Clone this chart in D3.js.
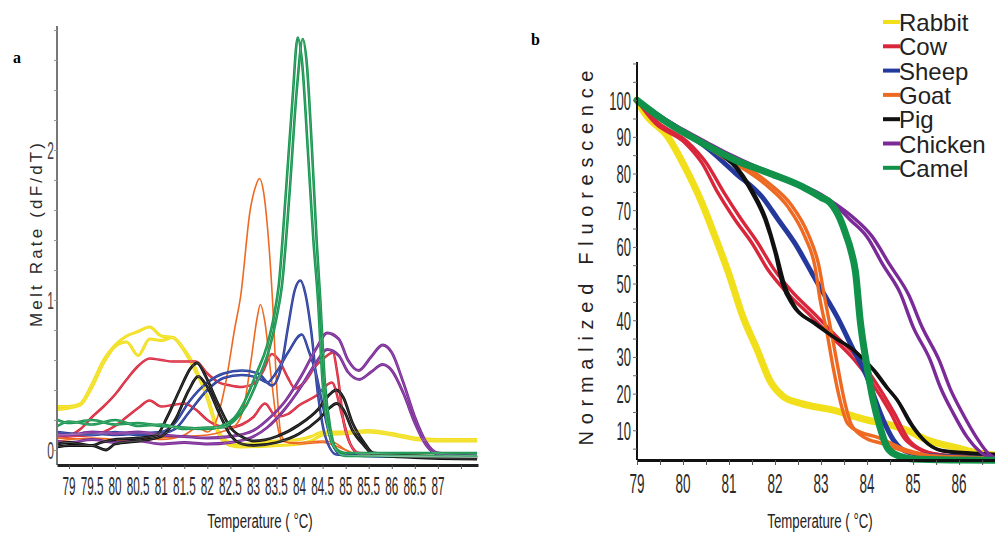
<!DOCTYPE html>
<html><head><meta charset="utf-8">
<script src="https://cdn.jsdelivr.net/npm/d3@7"></script>
<style>
html,body{margin:0;padding:0;background:#fff;}
svg{display:block;}
</style></head><body>
<svg id="chart" width="995" height="536"></svg>
<script>
// ---------- categories & styling keys ----------
const species = ["Rabbit","Cow","Sheep","Goat","Pig","Chicken","Camel"];
const speciesColors = ["#f2df1b","#d9263b","#24399b","#ee6a22","#111111","#7b2b97","#10924a"];

// ---------- panel a: tick labels ----------
const meltTickLabelsX = [79,79.5,80,80.5,81,81.5,82,82.5,83,83.5,84,84.5,85,85.5,86,86.5,87];
const meltTickMarksX = [79,79.5,80,80.5,81,81.5,82,82.5,83,83.5,84,84.5,85,85.5,86,86.5,87,87.5];
const meltTickLabelsY = [0,1,2];
const meltTickMarksY = [0,0.2,0.4,0.6,0.8,1,1.2,1.4,1.6,1.8,2,2.2,2.4,2.6,2.8];

// ---------- panel a: melt rate curves [temperature, dF/dT] ----------
const rabbitMelt1 = [[78.75,0.29],[79.0,0.29],[79.25,0.31],[79.5,0.44],[79.75,0.6],[80.0,0.7],[80.25,0.76],[80.5,0.79],[80.75,0.82],[81.0,0.76],[81.25,0.75],[81.5,0.66],[81.75,0.52],[82.0,0.36],[82.25,0.12],[82.5,0.05],[82.75,0.04],[83.5,0.06],[84.0,0.07],[84.25,0.09],[84.5,0.12],[85.0,0.12],[85.5,0.13],[86.0,0.11],[86.5,0.08],[87.0,0.07],[87.85,0.07]];
const rabbitMelt2 = [[78.75,0.27],[79.0,0.28],[79.25,0.3],[79.5,0.42],[79.75,0.58],[80.0,0.69],[80.25,0.72],[80.5,0.63],[80.75,0.74],[81.0,0.73],[81.25,0.75],[81.5,0.67],[81.75,0.54],[82.0,0.34],[82.25,0.1],[82.5,0.03],[82.75,0.02],[83.5,0.03],[84.0,0.04],[84.25,0.06],[84.5,0.1],[85.0,0.11],[85.5,0.12],[86.0,0.1],[86.5,0.07],[87.0,0.06],[87.85,0.06]];
const cowMelt1 = [[78.75,0.1],[79.0,0.1],[79.25,0.14],[79.5,0.22],[79.75,0.29],[80.0,0.37],[80.25,0.47],[80.5,0.56],[80.75,0.61],[81.0,0.6],[81.25,0.59],[81.5,0.59],[81.75,0.59],[82.0,0.51],[82.25,0.45],[82.5,0.43],[82.75,0.42],[83.0,0.44],[83.2,0.52],[83.4,0.64],[83.55,0.6],[83.75,0.48],[83.9,0.41],[84.1,0.45],[84.35,0.56],[84.6,0.63],[84.72,0.65],[84.83,0.49],[84.96,0.18],[85.1,0.04],[85.3,-0.02],[86.0,-0.03],[87.0,-0.04],[87.85,-0.04]];
const cowMelt2 = [[78.75,0.08],[79.0,0.09],[79.5,0.1],[80.0,0.16],[80.25,0.22],[80.5,0.28],[80.75,0.33],[81.0,0.29],[81.25,0.3],[81.5,0.31],[81.75,0.27],[82.0,0.2],[82.25,0.16],[82.5,0.15],[82.75,0.17],[83.0,0.22],[83.25,0.31],[83.5,0.22],[83.75,0.24],[84.0,0.3],[84.35,0.36],[84.7,0.45],[84.93,0.22],[85.1,0.04],[85.3,-0.03],[86.0,-0.04],[87.85,-0.05]];
const sheepMelt1 = [[78.75,0.1],[79.5,0.11],[80.0,0.1],[80.5,0.11],[81.0,0.12],[81.3,0.18],[81.6,0.32],[82.0,0.45],[82.35,0.51],[82.75,0.53],[83.1,0.51],[83.4,0.43],[83.6,0.55],[83.75,0.82],[83.9,1.07],[84.02,1.13],[84.12,1.05],[84.25,0.8],[84.4,0.37],[84.55,0.1],[84.8,-0.03],[85.5,-0.04],[87.85,-0.05]];
const sheepMelt2 = [[78.75,0.12],[79.5,0.1],[80.0,0.12],[80.5,0.1],[81.0,0.11],[81.3,0.14],[81.6,0.25],[82.0,0.4],[82.35,0.48],[82.75,0.5],[83.1,0.48],[83.3,0.45],[83.5,0.52],[83.75,0.65],[84.05,0.77],[84.2,0.66],[84.35,0.52],[84.5,0.3],[84.7,0.05],[84.9,-0.03],[85.5,-0.04],[87.85,-0.05]];
const goatMelt1 = [[78.75,0.08],[79.5,0.07],[80.0,0.06],[80.5,0.08],[81.0,0.07],[81.5,0.1],[81.8,0.15],[82.0,0.12],[82.2,0.2],[82.4,0.45],[82.6,0.82],[82.72,1.02],[82.93,1.6],[83.05,1.76],[83.13,1.81],[83.22,1.72],[83.3,1.5],[83.41,1.02],[83.5,0.45],[83.6,0.1],[83.75,0.05],[84.0,0.05],[84.5,0.06],[84.75,0.05],[85.0,0.0],[85.25,-0.03],[87.85,-0.05]];
const goatMelt2 = [[78.75,0.06],[79.5,0.08],[80.0,0.07],[80.5,0.06],[81.0,0.08],[81.5,0.09],[82.0,0.1],[82.3,0.12],[82.6,0.16],[82.8,0.3],[82.95,0.6],[83.08,0.88],[83.15,0.97],[83.25,0.85],[83.38,0.5],[83.5,0.2],[83.62,0.06],[84.0,0.04],[84.5,0.05],[85.0,0.0],[85.25,-0.03],[87.85,-0.05]];
const pigMelt1 = [[78.75,0.04],[79.0,0.05],[79.25,0.04],[79.5,0.03],[79.7,0.05],[80.0,0.07],[80.5,0.08],[80.9,0.1],[81.13,0.22],[81.4,0.4],[81.65,0.55],[81.78,0.58],[81.95,0.5],[82.2,0.33],[82.5,0.15],[82.8,0.08],[83.0,0.06],[83.5,0.09],[84.0,0.17],[84.4,0.27],[84.65,0.37],[84.8,0.4],[84.95,0.35],[85.15,0.18],[85.4,0.05],[85.6,-0.02],[86.5,-0.04],[87.85,-0.05]];
const pigMelt2 = [[78.75,0.02],[79.0,0.03],[79.5,0.03],[79.8,0.0],[80.0,0.04],[80.5,0.06],[81.0,0.09],[81.3,0.2],[81.6,0.4],[81.8,0.49],[82.0,0.42],[82.25,0.25],[82.5,0.1],[82.75,0.04],[83.0,0.03],[83.5,0.05],[84.0,0.11],[84.4,0.2],[84.65,0.28],[84.8,0.31],[84.95,0.27],[85.15,0.13],[85.4,0.03],[85.6,-0.03],[86.5,-0.05],[87.85,-0.06]];
const chickenMelt1 = [[78.75,0.1],[79.0,0.1],[79.5,0.12],[80.0,0.11],[80.5,0.12],[81.0,0.1],[81.5,0.09],[82.0,0.08],[82.5,0.09],[83.0,0.13],[83.3,0.2],[83.7,0.33],[84.05,0.5],[84.35,0.67],[84.6,0.78],[84.85,0.74],[85.05,0.6],[85.28,0.53],[85.55,0.62],[85.8,0.7],[86.0,0.65],[86.25,0.45],[86.5,0.22],[86.75,0.05],[87.0,-0.02],[87.85,-0.04]];
const chickenMelt2 = [[78.75,0.06],[79.0,0.05],[79.5,0.07],[80.0,0.05],[80.5,0.06],[81.0,0.04],[81.5,0.05],[82.0,0.04],[82.5,0.05],[83.0,0.09],[83.3,0.15],[83.7,0.28],[84.05,0.43],[84.35,0.58],[84.6,0.67],[84.85,0.63],[85.05,0.52],[85.3,0.47],[85.55,0.52],[85.8,0.57],[86.0,0.53],[86.25,0.38],[86.5,0.18],[86.75,0.03],[87.0,-0.03],[87.85,-0.05]];
const camelMelt1 = [[78.75,0.2],[79.0,0.18],[79.5,0.2],[80.0,0.17],[80.5,0.18],[81.0,0.16],[81.5,0.15],[82.0,0.14],[82.3,0.16],[82.6,0.22],[82.85,0.35],[83.05,0.5],[83.3,0.7],[83.45,0.9],[83.55,1.1],[83.7,1.7],[83.85,2.35],[83.96,2.75],[84.05,2.6],[84.18,2.0],[84.3,1.4],[84.4,1.0],[84.5,0.45],[84.62,0.15],[84.75,0.02],[85.0,-0.02],[86.0,-0.02],[87.85,-0.02]];
const camelMelt2 = [[78.75,0.16],[79.0,0.19],[79.5,0.17],[80.0,0.2],[80.5,0.16],[81.0,0.17],[81.5,0.14],[82.0,0.15],[82.3,0.15],[82.6,0.2],[82.85,0.3],[83.1,0.47],[83.35,0.68],[83.5,0.88],[83.62,1.1],[83.78,1.7],[83.94,2.4],[84.07,2.74],[84.15,2.6],[84.27,2.0],[84.37,1.4],[84.45,1.0],[84.55,0.45],[84.67,0.14],[84.8,0.0],[85.0,-0.04],[86.0,-0.04],[87.85,-0.04]];

// ---------- panel b: tick labels ----------
const normTickLabelsX = [79,80,81,82,83,84,85,86];
const normTickMarksX = [79,79.5,80,80.5,81,81.5,82,82.5,83,83.5,84,84.5,85,85.5,86,86.5];
const normTickLabelsY = [10,20,30,40,50,60,70,80,90,100];
const normTickMarksY = [5,10,15,20,25,30,35,40,45,50,55,60,65,70,75,80,85,90,95,100,105,110];

// ---------- panel b: normalized fluorescence curves [temperature, %] ----------
const rabbitNorm = [[79,100],[79.17,96.4],[79.67,90],[80.04,81.8],[80.41,72],[80.7,62.7],[81.0,52.5],[81.3,41],[81.61,32],[81.89,23.5],[82.17,19.3],[82.54,17.4],[83.26,15.5],[84.0,12.8],[84.5,11.5],[84.87,10],[85.3,7.4],[85.96,5.2],[86.3,4.1],[86.78,3.2]];
const cowNorm1 = [[79,100],[79.39,93.8],[80.04,88.4],[80.41,82.9],[80.76,74.7],[81.13,67.4],[81.5,61],[81.85,53.7],[82.2,48.3],[82.8,40.9],[83.3,34.6],[83.7,29.5],[84.1,23],[84.5,15],[84.8,8],[85.1,5],[85.5,3.5],[86,3],[86.78,2.5]];
const cowNorm2 = [[79,100],[79.45,94],[80.1,88.6],[80.5,83],[80.88,75],[81.25,67.8],[81.62,61.2],[81.97,54],[82.32,48.5],[82.9,41.2],[83.4,34.8],[83.8,29.6],[84.2,22.8],[84.6,14.5],[84.9,7.5],[85.2,4.6],[85.6,3.3],[86,2.9],[86.78,2.4]];
const sheepNorm = [[79,100],[79.5,95.5],[80,91.5],[80.5,87.2],[81.13,80.2],[81.72,73.6],[82.07,67.4],[82.43,61],[82.8,52.9],[83.0,48.5],[83.35,40.9],[83.7,32],[84.0,24.5],[84.13,20],[84.35,12.8],[84.57,7.4],[84.9,4],[85.5,3],[86.78,2.5]];
const goatNorm1 = [[79,100],[79.5,95.5],[80,91.5],[80.5,87.5],[81.0,83.5],[81.35,81],[81.85,76.4],[82.28,70.9],[82.65,62.7],[82.87,54.5],[82.98,45.5],[83.13,36.5],[83.26,27.3],[83.41,18.3],[83.57,12],[83.85,9.5],[84.2,8.2],[84.87,4.6],[85.5,3],[86.78,2.5]];
const goatNorm2 = [[79,100],[79.5,95.6],[80,91.7],[80.5,87.8],[81.0,84],[81.4,81.5],[81.9,77],[82.35,71.5],[82.72,63.5],[82.95,55],[83.08,46],[83.22,37],[83.36,27.5],[83.5,18.5],[83.66,11.5],[83.95,8],[84.3,6.5],[84.9,4],[85.5,2.8],[86.78,2.3]];
const pigNorm1 = [[79,100],[79.5,95],[80.26,89.2],[80.76,85.6],[81.13,81.8],[81.5,74.7],[81.78,67.4],[82.0,58.4],[82.15,50.2],[82.39,44],[82.83,39.3],[83.26,35.5],[83.7,31.9],[84.13,26.5],[84.4,22],[84.65,18.3],[84.93,12],[85.22,7.4],[85.59,4.6],[86.3,3.8],[86.78,3.5]];
const pigNorm2 = [[79,100],[79.5,95.2],[80.26,89.6],[80.76,86],[81.13,82.3],[81.5,75.5],[81.8,67.8],[82.03,58.2],[82.2,50],[82.45,43.4],[82.9,39],[83.3,35.2],[83.75,31.5],[84.18,26],[84.45,21.5],[84.7,17.5],[84.98,11.5],[85.27,7],[85.63,4.4],[86.3,3.6],[86.78,3.3]];
const chickenNorm1 = [[79,100],[79.5,95.5],[80,91.8],[80.5,88.3],[81,85],[81.5,82],[82,79.5],[82.5,77],[83.0,74],[83.3,71.5],[83.63,67.4],[84.0,62.7],[84.35,55],[84.72,47.4],[85.0,38.2],[85.37,29.2],[85.59,21.8],[85.87,14.7],[86.17,8.2],[86.46,4.1],[86.78,2]];
const chickenNorm2 = [[79,100],[79.5,95.6],[80,92],[80.5,88.6],[81,85.3],[81.5,82.4],[82,79.8],[82.5,77.3],[83.0,74.3],[83.3,71.8],[83.7,68],[84.1,63],[84.5,55],[84.9,47],[85.2,38],[85.57,29],[85.8,21.5],[86.08,14.5],[86.38,8],[86.65,3.5],[86.78,2.5]];
const camelNorm = [[79,100],[79.67,93.8],[80.41,88.4],[81.13,83.7],[81.85,80.2],[82.59,76.4],[83.0,73.5],[83.2,72],[83.4,68],[83.55,63],[83.65,59],[83.75,53],[83.85,40],[84.0,27.3],[84.13,18.3],[84.28,10.9],[84.43,5.5],[84.6,3.5],[85,2.2],[86,1.9],[86.78,1.8]];

const meltCurves = [
  ["Rabbit", rabbitMelt1], ["Rabbit", rabbitMelt2],
  ["Cow", cowMelt1], ["Cow", cowMelt2],
  ["Goat", goatMelt1], ["Goat", goatMelt2],
  ["Sheep", sheepMelt1], ["Sheep", sheepMelt2],
  ["Chicken", chickenMelt1], ["Chicken", chickenMelt2],
  ["Pig", pigMelt1], ["Pig", pigMelt2],
  ["Camel", camelMelt1], ["Camel", camelMelt2]
];
const normCurves = [
  ["Rabbit", rabbitNorm],
  ["Cow", cowNorm1], ["Cow", cowNorm2],
  ["Sheep", sheepNorm],
  ["Goat", goatNorm1], ["Goat", goatNorm2],
  ["Pig", pigNorm1], ["Pig", pigNorm2],
  ["Chicken", chickenNorm1], ["Chicken", chickenNorm2],
  ["Camel", camelNorm]
];

// ---------- drawing ----------
const color = d3.scaleOrdinal().domain(species).range(speciesColors);
const FONT = "'Liberation Sans', Arial, Helvetica, sans-serif";
const svg = d3.select("#chart").style("font-family", FONT);

function squeezedText(g, x, y, txt, size, sx, anchor, fill, dy) {
  return g.append("text")
    .attr("transform", `translate(${x},${y}) scale(${sx},1)`)
    .attr("text-anchor", anchor)
    .attr("dy", dy || 0)
    .style("font-size", size + "px")
    .attr("fill", fill)
    .text(txt);
}

// ===== Panel a =====
const xA = d3.scaleLinear().domain([78.74, 87.87]).range([57, 478]);
const yA = d3.scaleLinear().domain([-0.1, 2.8]).range([465, 30]);
const gA = svg.append("g");

const lineA = d3.line().x(d => xA(d[0])).y(d => yA(d[1])).curve(d3.curveMonotoneX);
const meltWidth = {Rabbit: 3, Cow: 2.5, Sheep: 2.5, Goat: 1.6, Pig: 2.8, Chicken: 2.8, Camel: 2.6};
gA.append("g").selectAll("path").data(meltCurves).join("path")
  .attr("d", d => lineA(d[1]))
  .attr("fill", "none")
  .attr("stroke", d => color(d[0]))
  .attr("stroke-width", d => meltWidth[d[0]])
  .attr("stroke-linejoin", "round");
gA.append("g").selectAll("path").data(meltCurves.filter(d => d[0] !== "Goat")).join("path")
  .attr("d", d => lineA(d[1]))
  .attr("fill", "none")
  .attr("stroke", "#fff")
  .attr("stroke-opacity", 0.3)
  .attr("stroke-width", 0.6);

// y axis
gA.append("g").attr("transform", "translate(57,0)")
  .call(d3.axisLeft(yA).tickValues(meltTickMarksY).tickSize(3).tickSizeOuter(0).tickFormat(""))
  .call(g => { g.select(".domain").attr("stroke", "#777").attr("stroke-width", 2).attr("d", "M0,26V465"); g.selectAll(".tick line").attr("stroke", "#999"); });
meltTickLabelsY.forEach(v => squeezedText(gA, 54, yA(v), String(v), 24, 0.5, "end", "#444", "0.36em"));

// x axis
gA.append("g").attr("transform", "translate(0,465)")
  .call(d3.axisBottom(xA).tickValues(meltTickMarksX).tickSize(4).tickSizeOuter(0).tickFormat(""))
  .call(g => { g.select(".domain").attr("stroke", "#222").attr("stroke-width", 3); g.selectAll(".tick line").attr("stroke", "#555"); });
meltTickLabelsX.forEach(v => squeezedText(gA, xA(v), 495, String(v), 26, 0.45, "middle", "#2a2a2a"));

squeezedText(gA, 260, 528, "Temperature ( °C)", 21, 0.63, "middle", "#222");
gA.append("text")
  .attr("transform", "translate(42,235) rotate(-90)")
  .attr("text-anchor", "middle")
  .attr("textLength", 184).attr("lengthAdjust", "spacing")
  .style("font-size", "17px").attr("fill", "#2a2a2a")
  .text("Melt Rate (dF/dT)");
gA.append("text").attr("x", 13).attr("y", 63)
  .style("font-family", "'Liberation Serif', 'Times New Roman', serif")
  .style("font-weight", "bold").style("font-size", "16px").text("a");

// ===== Panel b =====
const xB = d3.scaleLinear().domain([79, 86.78]).range([637, 995]);
const yB = d3.scaleLinear().domain([1.9, 110.4]).range([460, 62]);
const gB = svg.append("g");

const lineB = d3.line().x(d => xB(d[0])).y(d => yB(d[1])).curve(d3.curveMonotoneX);
const normWidth = {Rabbit: 7, Cow: 3.4, Sheep: 5, Goat: 3.4, Pig: 3.2, Chicken: 3.4, Camel: 7};
gB.append("g").selectAll("path").data(normCurves).join("path")
  .attr("d", d => lineB(d[1]))
  .attr("fill", "none")
  .attr("stroke", d => color(d[0]))
  .attr("stroke-width", d => normWidth[d[0]])
  .attr("stroke-linejoin", "round").attr("stroke-linecap", "round");

gB.append("g").attr("transform", "translate(637,0)")
  .call(d3.axisLeft(yB).tickValues(normTickMarksY).tickSize(4).tickSizeOuter(0).tickFormat(""))
  .call(g => { g.select(".domain").attr("stroke", "#111").attr("stroke-width", 2).attr("d", "M0,62V460"); g.selectAll(".tick line").attr("stroke", "#666"); });
normTickLabelsY.forEach(v => squeezedText(gB, 631, yB(v), String(v), 26, 0.5, "end", "#2a2a2a", "0.36em"));

gB.append("g").attr("transform", "translate(0,460)")
  .call(d3.axisBottom(xB).tickValues(normTickMarksX).tickSize(5).tickSizeOuter(0).tickFormat(""))
  .call(g => { g.select(".domain").attr("stroke", "#111").attr("stroke-width", 3); g.selectAll(".tick line").attr("stroke", "#555"); });
normTickLabelsX.forEach(v => squeezedText(gB, xB(v), 493, String(v), 27, 0.5, "middle", "#2a2a2a"));

squeezedText(gB, 820, 528, "Temperature ( °C)", 21, 0.63, "middle", "#222");
gB.append("text")
  .attr("transform", "translate(593,258) rotate(-90)")
  .attr("text-anchor", "middle")
  .attr("textLength", 375).attr("lengthAdjust", "spacing")
  .style("font-size", "20px").attr("fill", "#222")
  .text("Normalized Fluorescence");
gB.append("text").attr("x", 531).attr("y", 45)
  .style("font-family", "'Liberation Serif', 'Times New Roman', serif")
  .style("font-weight", "bold").style("font-size", "16px").text("b");

// legend
const legend = gB.append("g");
species.forEach((s, i) => {
  const yb = 31 + i * 24.3;
  legend.append("line").attr("x1", 883).attr("x2", 900).attr("y1", yb - 9).attr("y2", yb - 9)
    .attr("stroke", color(s)).attr("stroke-width", 4);
  legend.append("text").attr("x", 899).attr("y", yb)
    .style("font-size", "24px").attr("fill", "#222").text(s);
});
</script>
</body></html>
